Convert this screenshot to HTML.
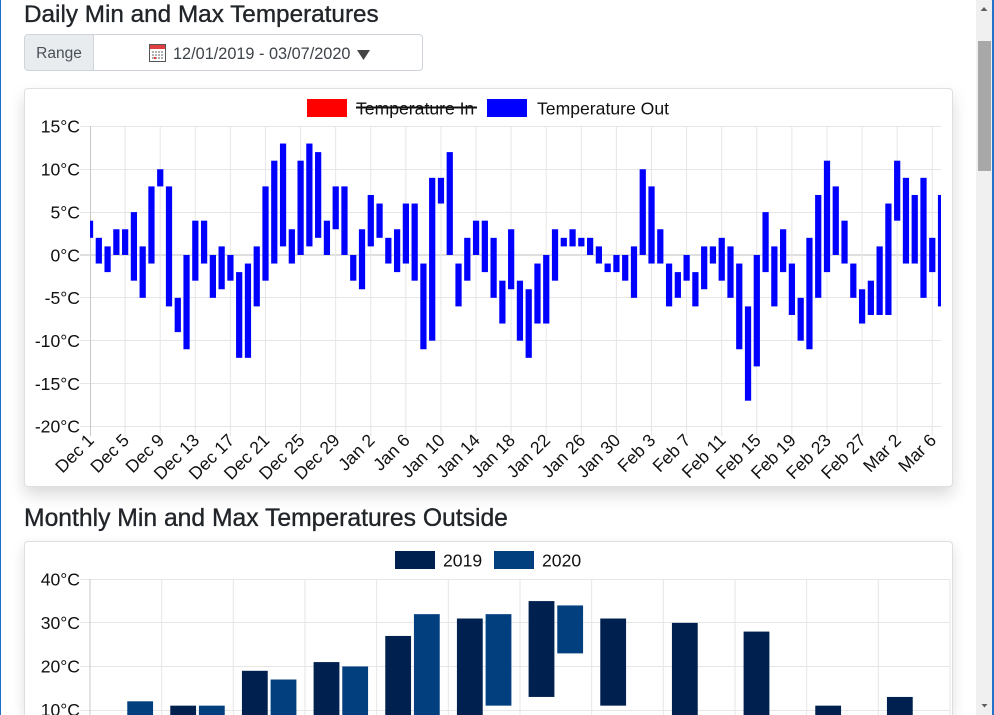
<!DOCTYPE html>
<html>
<head>
<meta charset="utf-8">
<style>
  html,body{margin:0;padding:0;overflow:hidden;width:994px;height:715px;}
  body{background:#fff;font-family:"Liberation Sans",Arial,sans-serif;}
  #wrap{position:relative;width:994px;height:715px;overflow:hidden;background:#fff;}
  .abs{position:absolute;}
  .title{position:absolute;left:24px;color:#212529;line-height:29px;white-space:nowrap;-webkit-text-stroke:0.35px #212529;}
  .card{position:absolute;left:24px;width:929px;box-sizing:border-box;border:1px solid rgba(0,0,0,.125);border-radius:4px;background:#fff;box-shadow:0 .5rem 1rem rgba(0,0,0,.15);}
</style>
</head>
<body>
<div id="wrap">
<div class="title" style="top:0;font-size:24.3px;">Daily Min and Max Temperatures</div>

<!-- input group -->
<div class="abs" style="left:24px;top:34px;width:399px;height:37px;box-sizing:border-box;border:1px solid #ced4da;border-radius:4px;overflow:hidden;">
  <div class="abs" style="left:0;top:0;width:68px;height:35px;background:#e9ecef;border-right:1px solid #ced4da;"></div>
</div>
<div class="abs" style="left:24px;top:45px;width:70px;text-align:center;font-size:15.5px;line-height:18px;color:#495057;">Range</div>
<div class="abs" style="left:173px;top:44.5px;font-size:16.3px;line-height:19px;color:#3d4349;white-space:nowrap;">12/01/2019 - 03/07/2020</div>

<div class="card" style="top:88px;height:399px;"></div>

<div class="title" style="top:504px;font-size:24.7px;">Monthly Min and Max Temperatures Outside</div>

<div class="card" style="top:541px;height:174px;border-bottom:none;border-radius:4px 4px 0 0;box-shadow:0 .3rem .8rem rgba(0,0,0,.12);"></div>

<!-- window borders / scrollbar -->
<div class="abs" style="left:0;top:0;width:1px;height:715px;background:#1f6fc5;"></div>
<div class="abs" style="left:976px;top:0;width:16px;height:715px;background:#f0f0f0;"></div>
<div class="abs" style="left:978px;top:41px;width:13px;height:130px;background:#a8a8a8;"></div>
<div class="abs" style="left:992px;top:0;width:2px;height:715px;background:#2272c8;"></div>

<svg class="abs" style="left:0;top:0;" width="994" height="715" viewBox="0 0 994 715" xmlns="http://www.w3.org/2000/svg" font-family="Liberation Sans, Arial, sans-serif">
  <defs>
    <clipPath id="c1"><rect x="90" y="120" width="851" height="320"/></clipPath>
    <clipPath id="c2"><rect x="0" y="0" width="994" height="715"/></clipPath>
  </defs>

  <!-- scroll arrows -->
  <polygon points="980.5,11 987.5,11 984,7" fill="#606060"/>
  <polygon points="981.5,704 987.5,704 984.5,707.5" fill="#606060"/>

  <!-- calendar icon -->
  <rect x="149.5" y="44.5" width="16" height="17" fill="#fff" stroke="#555" stroke-width="1"/>
  <rect x="150" y="45" width="15" height="4" fill="#e04040"/>
  <g fill="#b0b0b0">
    <rect x="152" y="51" width="2" height="2"/><rect x="155" y="51" width="2" height="2"/><rect x="158" y="51" width="2" height="2"/><rect x="161" y="51" width="2" height="2"/>
    <rect x="152" y="54" width="2" height="2"/><rect x="155" y="54" width="2" height="2"/><rect x="158" y="54" width="2" height="2"/><rect x="161" y="54" width="2" height="2"/>
    <rect x="152" y="57" width="2" height="2"/><rect x="155" y="57" width="2" height="2"/><rect x="158" y="57" width="2" height="2"/><rect x="161" y="57" width="2" height="2"/>
  </g>
  <rect x="154" y="57" width="2" height="2" fill="#e04040"/>
  <!-- dropdown triangle -->
  <polygon points="357,50 370,50 363.5,60" fill="#444"/>

  <!-- ============ CHART 1 ============ -->
  <rect x="307" y="99" width="40" height="18" fill="#ff0000"/>
  <text x="356" y="114.3" font-size="17.6" fill="#111">Temperature In</text>
  <line x1="356" y1="107.5" x2="477" y2="107.5" stroke="#111" stroke-width="2"/>
  <rect x="487" y="99" width="40" height="18" fill="#0000ff"/>
  <text x="537" y="114.3" font-size="17.6" fill="#111">Temperature Out</text>

  <g stroke="#e6e6e6" stroke-width="1">
    <line x1="80" y1="126.5" x2="941" y2="126.5"/>
    <line x1="80" y1="169.5" x2="941" y2="169.5"/>
    <line x1="80" y1="212.5" x2="941" y2="212.5"/>
    <line x1="80" y1="297.5" x2="941" y2="297.5"/>
    <line x1="80" y1="340.5" x2="941" y2="340.5"/>
    <line x1="80" y1="383.5" x2="941" y2="383.5"/>
    <line x1="80" y1="426.5" x2="941" y2="426.5"/>
  </g>
  <line x1="80" y1="255" x2="941" y2="255" stroke="#bfbfbf" stroke-width="1"/>
  <g stroke="#e6e6e6" stroke-width="1">
    <line x1="125.09" y1="126" x2="125.09" y2="436"/>
    <line x1="160.19" y1="126" x2="160.19" y2="436"/>
    <line x1="195.28" y1="126" x2="195.28" y2="436"/>
    <line x1="230.37" y1="126" x2="230.37" y2="436"/>
    <line x1="265.46" y1="126" x2="265.46" y2="436"/>
    <line x1="300.56" y1="126" x2="300.56" y2="436"/>
    <line x1="335.65" y1="126" x2="335.65" y2="436"/>
    <line x1="370.74" y1="126" x2="370.74" y2="436"/>
    <line x1="405.84" y1="126" x2="405.84" y2="436"/>
    <line x1="440.93" y1="126" x2="440.93" y2="436"/>
    <line x1="476.02" y1="126" x2="476.02" y2="436"/>
    <line x1="511.11" y1="126" x2="511.11" y2="436"/>
    <line x1="546.21" y1="126" x2="546.21" y2="436"/>
    <line x1="581.30" y1="126" x2="581.30" y2="436"/>
    <line x1="616.39" y1="126" x2="616.39" y2="436"/>
    <line x1="651.48" y1="126" x2="651.48" y2="436"/>
    <line x1="686.58" y1="126" x2="686.58" y2="436"/>
    <line x1="721.67" y1="126" x2="721.67" y2="436"/>
    <line x1="756.76" y1="126" x2="756.76" y2="436"/>
    <line x1="791.86" y1="126" x2="791.86" y2="436"/>
    <line x1="826.95" y1="126" x2="826.95" y2="436"/>
    <line x1="862.04" y1="126" x2="862.04" y2="436"/>
    <line x1="897.13" y1="126" x2="897.13" y2="436"/>
    <line x1="932.23" y1="126" x2="932.23" y2="436"/>
  </g>
  <line x1="90.5" y1="126" x2="90.5" y2="436" stroke="#c8c8c8" stroke-width="1"/>

  <g font-size="17.6" fill="#111" text-anchor="end">
    <text x="80" y="132.7">15°C</text>
    <text x="80" y="175.6">10°C</text>
    <text x="80" y="218.4">5°C</text>
    <text x="80" y="261.3">0°C</text>
    <text x="80" y="304.1">-5°C</text>
    <text x="80" y="347.0">-10°C</text>
    <text x="80" y="389.8">-15°C</text>
    <text x="80" y="432.7">-20°C</text>
  </g>

  <g clip-path="url(#c1)">
    <g transform="translate(90 254.97) scale(8.7732 -8.5714)" fill="#0000ff">
      <rect x="-0.35" y="2" width="0.71" height="2"/>
      <rect x="0.65" y="-1" width="0.71" height="3"/>
      <rect x="1.65" y="-2" width="0.71" height="3"/>
      <rect x="2.65" y="0" width="0.71" height="3"/>
      <rect x="3.65" y="0" width="0.71" height="3"/>
      <rect x="4.65" y="-3" width="0.71" height="8"/>
      <rect x="5.65" y="-5" width="0.71" height="6"/>
      <rect x="6.65" y="-1" width="0.71" height="9"/>
      <rect x="7.65" y="8" width="0.71" height="2"/>
      <rect x="8.65" y="-6" width="0.71" height="14"/>
      <rect x="9.65" y="-9" width="0.71" height="4"/>
      <rect x="10.65" y="-11" width="0.71" height="11"/>
      <rect x="11.65" y="-3" width="0.71" height="7"/>
      <rect x="12.65" y="-1" width="0.71" height="5"/>
      <rect x="13.65" y="-5" width="0.71" height="5"/>
      <rect x="14.65" y="-4" width="0.71" height="5"/>
      <rect x="15.65" y="-3" width="0.71" height="3"/>
      <rect x="16.65" y="-12" width="0.71" height="10"/>
      <rect x="17.65" y="-12" width="0.71" height="11"/>
      <rect x="18.65" y="-6" width="0.71" height="7"/>
      <rect x="19.65" y="-3" width="0.71" height="11"/>
      <rect x="20.65" y="-1" width="0.71" height="12"/>
      <rect x="21.65" y="1" width="0.71" height="12"/>
      <rect x="22.65" y="-1" width="0.71" height="4"/>
      <rect x="23.65" y="0" width="0.71" height="11"/>
      <rect x="24.65" y="1" width="0.71" height="12"/>
      <rect x="25.65" y="2" width="0.71" height="10"/>
      <rect x="26.65" y="0" width="0.71" height="4"/>
      <rect x="27.65" y="3" width="0.71" height="5"/>
      <rect x="28.65" y="0" width="0.71" height="8"/>
      <rect x="29.65" y="-3" width="0.71" height="3"/>
      <rect x="30.65" y="-4" width="0.71" height="7"/>
      <rect x="31.65" y="1" width="0.71" height="6"/>
      <rect x="32.65" y="2" width="0.71" height="4"/>
      <rect x="33.65" y="-1" width="0.71" height="3"/>
      <rect x="34.65" y="-2" width="0.71" height="5"/>
      <rect x="35.65" y="-1" width="0.71" height="7"/>
      <rect x="36.65" y="-3" width="0.71" height="9"/>
      <rect x="37.65" y="-11" width="0.71" height="10"/>
      <rect x="38.65" y="-10" width="0.71" height="19"/>
      <rect x="39.65" y="6" width="0.71" height="3"/>
      <rect x="40.65" y="0" width="0.71" height="12"/>
      <rect x="41.65" y="-6" width="0.71" height="5"/>
      <rect x="42.65" y="-3" width="0.71" height="5"/>
      <rect x="43.65" y="0" width="0.71" height="4"/>
      <rect x="44.65" y="-2" width="0.71" height="6"/>
      <rect x="45.65" y="-5" width="0.71" height="7"/>
      <rect x="46.65" y="-8" width="0.71" height="5"/>
      <rect x="47.65" y="-4" width="0.71" height="7"/>
      <rect x="48.65" y="-10" width="0.71" height="7"/>
      <rect x="49.65" y="-12" width="0.71" height="8"/>
      <rect x="50.65" y="-8" width="0.71" height="7"/>
      <rect x="51.65" y="-8" width="0.71" height="8"/>
      <rect x="52.65" y="-3" width="0.71" height="6"/>
      <rect x="53.65" y="1" width="0.71" height="1"/>
      <rect x="54.65" y="1" width="0.71" height="2"/>
      <rect x="55.65" y="1" width="0.71" height="1"/>
      <rect x="56.65" y="0" width="0.71" height="2"/>
      <rect x="57.65" y="-1" width="0.71" height="2"/>
      <rect x="58.65" y="-2" width="0.71" height="1"/>
      <rect x="59.65" y="-2" width="0.71" height="2"/>
      <rect x="60.65" y="-3" width="0.71" height="3"/>
      <rect x="61.65" y="-5" width="0.71" height="6"/>
      <rect x="62.65" y="0" width="0.71" height="10"/>
      <rect x="63.65" y="-1" width="0.71" height="9"/>
      <rect x="64.65" y="-1" width="0.71" height="4"/>
      <rect x="65.65" y="-6" width="0.71" height="5"/>
      <rect x="66.65" y="-5" width="0.71" height="3"/>
      <rect x="67.65" y="-3" width="0.71" height="3"/>
      <rect x="68.65" y="-6" width="0.71" height="4"/>
      <rect x="69.65" y="-4" width="0.71" height="5"/>
      <rect x="70.65" y="-1" width="0.71" height="2"/>
      <rect x="71.65" y="-3" width="0.71" height="5"/>
      <rect x="72.65" y="-5" width="0.71" height="6"/>
      <rect x="73.65" y="-11" width="0.71" height="10"/>
      <rect x="74.65" y="-17" width="0.71" height="11"/>
      <rect x="75.65" y="-13" width="0.71" height="13"/>
      <rect x="76.65" y="-2" width="0.71" height="7"/>
      <rect x="77.65" y="-6" width="0.71" height="7"/>
      <rect x="78.65" y="-2" width="0.71" height="5"/>
      <rect x="79.65" y="-7" width="0.71" height="6"/>
      <rect x="80.65" y="-10" width="0.71" height="5"/>
      <rect x="81.65" y="-11" width="0.71" height="13"/>
      <rect x="82.65" y="-5" width="0.71" height="12"/>
      <rect x="83.65" y="-2" width="0.71" height="13"/>
      <rect x="84.65" y="0" width="0.71" height="8"/>
      <rect x="85.65" y="-1" width="0.71" height="5"/>
      <rect x="86.65" y="-5" width="0.71" height="4"/>
      <rect x="87.65" y="-8" width="0.71" height="4"/>
      <rect x="88.65" y="-7" width="0.71" height="4"/>
      <rect x="89.65" y="-7" width="0.71" height="8"/>
      <rect x="90.65" y="-7" width="0.71" height="13"/>
      <rect x="91.65" y="4" width="0.71" height="7"/>
      <rect x="92.65" y="-1" width="0.71" height="10"/>
      <rect x="93.65" y="-1" width="0.71" height="8"/>
      <rect x="94.65" y="-5" width="0.71" height="14"/>
      <rect x="95.65" y="-2" width="0.71" height="4"/>
      <rect x="96.65" y="-6" width="0.71" height="13"/>
    </g>
  </g>

  <g font-size="17.6" fill="#111" text-anchor="end">
    <text transform="translate(90.7 437) rotate(-45)" dy="0.35em">Dec 1</text>
    <text transform="translate(125.8 437) rotate(-45)" dy="0.35em">Dec 5</text>
    <text transform="translate(160.9 437) rotate(-45)" dy="0.35em">Dec 9</text>
    <text transform="translate(196.0 437) rotate(-45)" dy="0.35em">Dec 13</text>
    <text transform="translate(231.1 437) rotate(-45)" dy="0.35em">Dec 17</text>
    <text transform="translate(266.2 437) rotate(-45)" dy="0.35em">Dec 21</text>
    <text transform="translate(301.3 437) rotate(-45)" dy="0.35em">Dec 25</text>
    <text transform="translate(336.4 437) rotate(-45)" dy="0.35em">Dec 29</text>
    <text transform="translate(371.4 437) rotate(-45)" dy="0.35em">Jan 2</text>
    <text transform="translate(406.5 437) rotate(-45)" dy="0.35em">Jan 6</text>
    <text transform="translate(441.6 437) rotate(-45)" dy="0.35em">Jan 10</text>
    <text transform="translate(476.7 437) rotate(-45)" dy="0.35em">Jan 14</text>
    <text transform="translate(511.8 437) rotate(-45)" dy="0.35em">Jan 18</text>
    <text transform="translate(546.9 437) rotate(-45)" dy="0.35em">Jan 22</text>
    <text transform="translate(582.0 437) rotate(-45)" dy="0.35em">Jan 26</text>
    <text transform="translate(617.1 437) rotate(-45)" dy="0.35em">Jan 30</text>
    <text transform="translate(652.2 437) rotate(-45)" dy="0.35em">Feb 3</text>
    <text transform="translate(687.3 437) rotate(-45)" dy="0.35em">Feb 7</text>
    <text transform="translate(722.4 437) rotate(-45)" dy="0.35em">Feb 11</text>
    <text transform="translate(757.5 437) rotate(-45)" dy="0.35em">Feb 15</text>
    <text transform="translate(792.6 437) rotate(-45)" dy="0.35em">Feb 19</text>
    <text transform="translate(827.7 437) rotate(-45)" dy="0.35em">Feb 23</text>
    <text transform="translate(862.7 437) rotate(-45)" dy="0.35em">Feb 27</text>
    <text transform="translate(897.8 437) rotate(-45)" dy="0.35em">Mar 2</text>
    <text transform="translate(932.9 437) rotate(-45)" dy="0.35em">Mar 6</text>
  </g>

  <!-- ============ CHART 2 ============ -->
  <rect x="395" y="551" width="40" height="18" fill="#00204f"/>
  <text x="443" y="566.3" font-size="17.6" fill="#111">2019</text>
  <rect x="494" y="551" width="40" height="18" fill="#013f7e"/>
  <text x="542" y="566.3" font-size="17.6" fill="#111">2020</text>

  <g stroke="#e6e6e6" stroke-width="1">
    <line x1="80" y1="579.5" x2="950" y2="579.5"/>
    <line x1="80" y1="622.5" x2="950" y2="622.5"/>
    <line x1="80" y1="666.5" x2="950" y2="666.5"/>
    <line x1="80" y1="710.5" x2="950" y2="710.5"/>
    <line x1="161.67" y1="579" x2="161.67" y2="715"/>
    <line x1="233.33" y1="579" x2="233.33" y2="715"/>
    <line x1="305" y1="579" x2="305" y2="715"/>
    <line x1="376.67" y1="579" x2="376.67" y2="715"/>
    <line x1="448.33" y1="579" x2="448.33" y2="715"/>
    <line x1="520" y1="579" x2="520" y2="715"/>
    <line x1="591.67" y1="579" x2="591.67" y2="715"/>
    <line x1="663.33" y1="579" x2="663.33" y2="715"/>
    <line x1="735" y1="579" x2="735" y2="715"/>
    <line x1="806.67" y1="579" x2="806.67" y2="715"/>
    <line x1="878.33" y1="579" x2="878.33" y2="715"/>
    <line x1="950" y1="579" x2="950" y2="715"/>
  </g>
  <line x1="90" y1="579" x2="90" y2="715" stroke="#c8c8c8" stroke-width="1"/>

  <g font-size="17.6" fill="#111" text-anchor="end">
    <text x="80" y="585.6">40°C</text>
    <text x="80" y="629.1">30°C</text>
    <text x="80" y="672.7">20°C</text>
    <text x="80" y="715.8">10°C</text>
  </g>

  <g clip-path="url(#c2)">
    <g transform="translate(0 753.58) scale(1 -4.357)">
      <g fill="#00204f">
        <rect x="170.27" y="8.8" width="25.8" height="2.2"/>
        <rect x="241.93" y="8.8" width="25.8" height="10.2"/>
        <rect x="313.6" y="8.8" width="25.8" height="12.2"/>
        <rect x="385.27" y="8.8" width="25.8" height="18.2"/>
        <rect x="456.93" y="8.8" width="25.8" height="22.2"/>
        <rect x="528.6" y="13" width="25.8" height="22"/>
        <rect x="600.27" y="11" width="25.8" height="20"/>
        <rect x="671.93" y="8.8" width="25.8" height="21.2"/>
        <rect x="743.6" y="8.8" width="25.8" height="19.2"/>
        <rect x="815.27" y="8.8" width="25.8" height="2.2"/>
        <rect x="886.93" y="8.8" width="25.8" height="4.2"/>
      </g>
      <g fill="#013f7e">
        <rect x="127.27" y="8.8" width="25.8" height="3.2"/>
        <rect x="198.93" y="8.8" width="25.8" height="2.2"/>
        <rect x="270.6" y="8.8" width="25.8" height="8.2"/>
        <rect x="342.27" y="8.8" width="25.8" height="11.2"/>
        <rect x="413.93" y="8.8" width="25.8" height="23.2"/>
        <rect x="485.6" y="11" width="25.8" height="21"/>
        <rect x="557.27" y="23" width="25.8" height="11"/>
      </g>
    </g>
  </g>
</svg>
</div>
</body>
</html>
